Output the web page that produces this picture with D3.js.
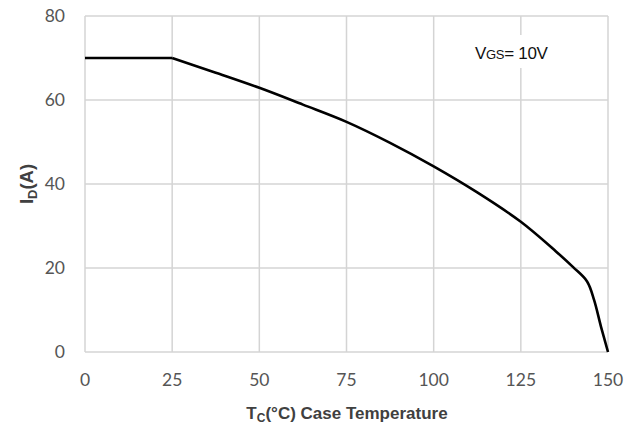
<!DOCTYPE html>
<html>
<head>
<meta charset="utf-8">
<script src="https://cdn.jsdelivr.net/npm/d3@7"></script>
<style>
  body { margin: 0; background: #fff; }
  svg { display: block; }
</style>
</head>
<body>
<svg id="chart" width="637" height="430"></svg>
<script>
// Drain current vs case temperature
var temps   = [0, 25, 37.5, 50, 62.5, 75, 87.5, 100, 112.5, 125, 135, 140, 144, 146, 148, 150]
var current = [70, 70, 66.5, 62.9, 58.9, 54.8, 49.8, 44.2, 38, 31, 24, 20.2, 16.8, 12.4, 6, 0]

var xTicks = [0, 25, 50, 75, 100, 125, 150]
var yTicks = [0, 20, 40, 60, 80]

var svg = d3.select('#chart')

var x = d3.scaleLinear().domain([0, 150]).range([85, 608])
var y = d3.scaleLinear().domain([0, 80]).range([352, 16])

var grid = '#d4d4d4'

// gridlines
svg.append('g').selectAll('line.v')
  .data(xTicks)
  .enter().append('line')
  .attr('x1', function(d){ return x(d) })
  .attr('x2', function(d){ return x(d) })
  .attr('y1', y(0)).attr('y2', y(80))
  .attr('stroke', grid).attr('stroke-width', 1.5)

svg.append('g').selectAll('line.h')
  .data(yTicks)
  .enter().append('line')
  .attr('y1', function(d){ return y(d) })
  .attr('y2', function(d){ return y(d) })
  .attr('x1', x(0)).attr('x2', x(150))
  .attr('stroke', grid).attr('stroke-width', 1.5)

// tick labels
svg.append('g').selectAll('text')
  .data(yTicks)
  .enter().append('text')
  .attr('x', 65)
  .attr('y', function(d){ return y(d) + 6 })
  .attr('text-anchor', 'end')
  .attr('font-family', 'Lato, sans-serif')
  .attr('font-size', 17.5)
  .attr('fill', '#555')
  .text(function(d){ return d })

svg.append('g').selectAll('text')
  .data(xTicks)
  .enter().append('text')
  .attr('x', function(d){ return x(d) })
  .attr('y', 386)
  .attr('text-anchor', 'middle')
  .attr('font-family', 'Lato, sans-serif')
  .attr('font-size', 17.5)
  .attr('fill', '#555')
  .text(function(d){ return d })

// label box VGS
var box = svg.append('g')
box.append('rect')
  .attr('x', 468).attr('y', 35).attr('width', 96).attr('height', 33)
  .attr('fill', '#fff')
var vgs = box.append('text')
  .attr('x', 475).attr('y', 59)
  .attr('font-family', 'Liberation Sans, Arial, sans-serif')
  .attr('font-size', 17)
  .attr('fill', '#111')
  .attr('letter-spacing', -0.3)
vgs.append('tspan').text('V')
vgs.append('tspan').attr('font-size', 13).text('GS')
vgs.append('tspan').text('= 10V')

// curve: flat limit, then smooth derating
var flat = d3.line()
  .x(function(d){ return x(d[0]) })
  .y(function(d){ return y(d[1]) })
var smooth = d3.line()
  .x(function(d){ return x(d[0]) })
  .y(function(d){ return y(d[1]) })
  .curve(d3.curveCatmullRom.alpha(0.5))

var pts = d3.zip(temps, current)
svg.append('path')
  .attr('d', flat(pts.slice(0, 2)))
  .attr('fill', 'none').attr('stroke', '#000').attr('stroke-width', 2.6)
svg.append('path')
  .attr('d', smooth(pts.slice(1)))
  .attr('fill', 'none').attr('stroke', '#000').attr('stroke-width', 2.6)

// axis titles
var xt = svg.append('text')
  .attr('x', 347).attr('y', 419)
  .attr('text-anchor', 'middle')
  .attr('font-family', 'Liberation Sans, Arial, sans-serif')
  .attr('font-weight', 'bold')
  .attr('font-size', 17)
  .attr('fill', '#404040')
xt.append('tspan').text('T')
xt.append('tspan').attr('font-size', 12).attr('dy', 3).text('C')
xt.append('tspan').attr('dy', -3).text('(°C) Case Temperature')

var yt = svg.append('text')
  .attr('transform', 'translate(33,184) rotate(-90)')
  .attr('text-anchor', 'middle')
  .attr('font-family', 'Liberation Sans, Arial, sans-serif')
  .attr('font-weight', 'bold')
  .attr('font-size', 18.5)
  .attr('fill', '#404040')
yt.append('tspan').text('I')
yt.append('tspan').attr('font-size', 13).attr('dy', 4).text('D')
yt.append('tspan').attr('dy', -4).text('(A)')
</script>
</body>
</html>
